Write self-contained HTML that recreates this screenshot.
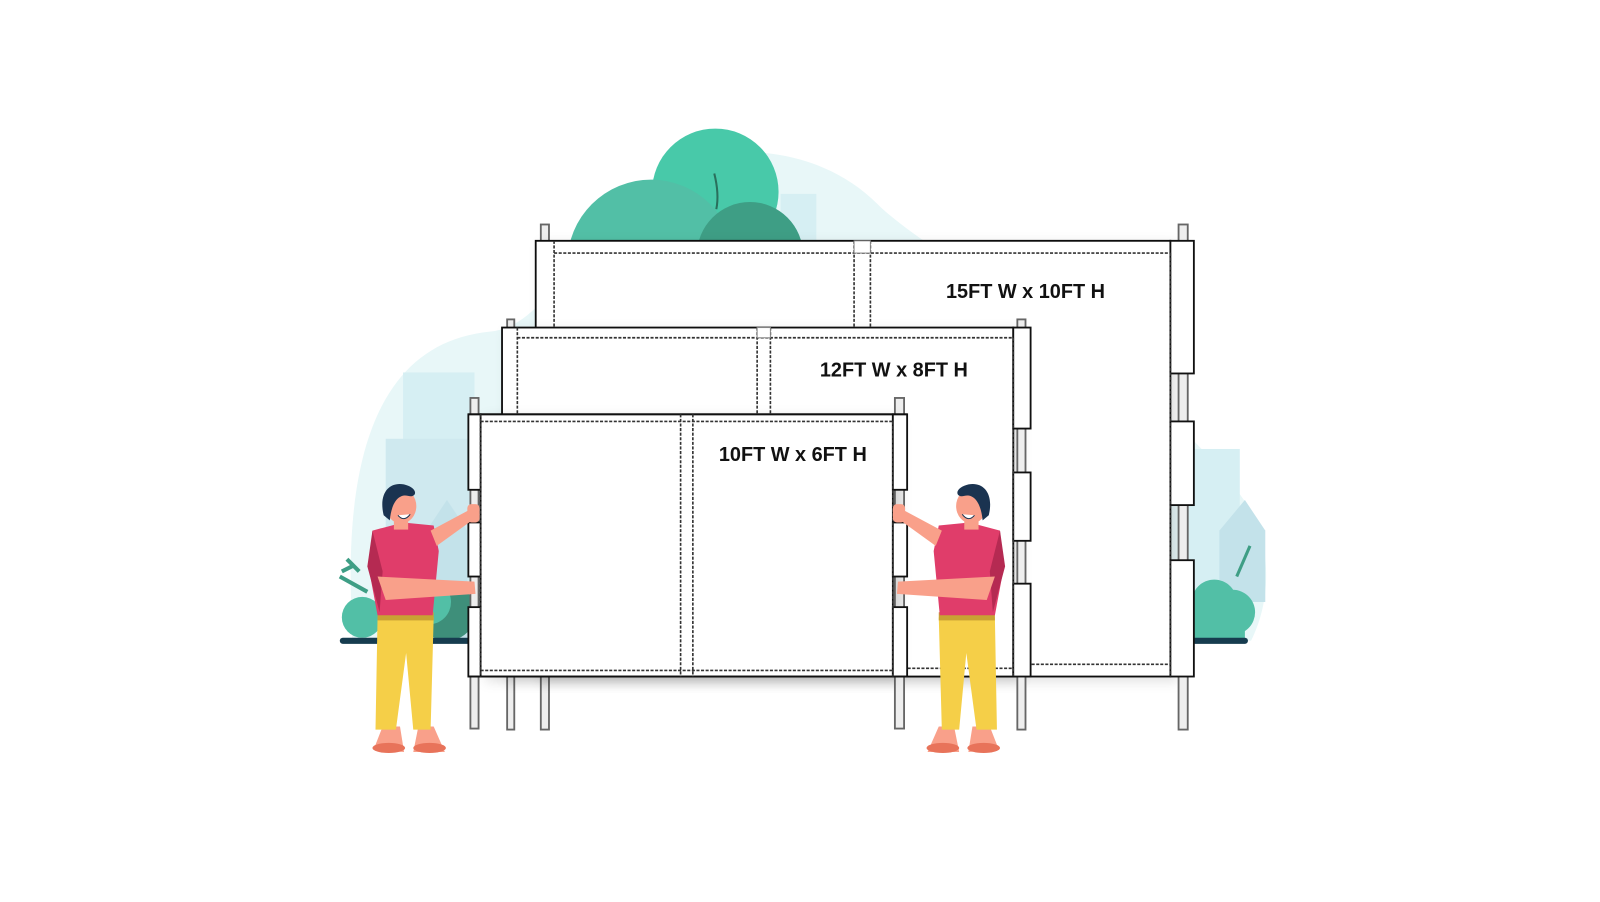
<!DOCTYPE html>
<html><head><meta charset="utf-8"><style>
html,body{margin:0;padding:0;background:#fff;}
svg{display:block}
text{font-family:"Liberation Sans",sans-serif;font-weight:bold;font-size:19.5px;fill:#111}
</style></head><body>
<svg width="1600" height="902" viewBox="0 0 1600 902" xmlns="http://www.w3.org/2000/svg">
<defs>
<filter id="sh" x="-10%" y="-10%" width="130%" height="130%"><feDropShadow dx="6" dy="4" stdDeviation="6" flood-color="#000" flood-opacity="0.12"/></filter>
</defs>
<g transform="scale(1.0204)">
<!-- background blob -->
<path d="M345,610 C335,430 380,335 480,325 C540,320 570,220 640,175 C700,135 800,140 860,200 C920,260 1150,370 1232,510 C1248,560 1240,600 1226,628 L345,628 Z" fill="#e8f7f8"/>
<rect x="395" y="365" width="70" height="260" fill="#d6eff3"/>
<rect x="378" y="430" width="110" height="195" fill="#cfe9ef"/>
<polygon points="418,520 438,490 458,520 458,625 418,625" fill="#c3e2ea"/>
<rect x="765" y="190" width="35" height="50" fill="#d6eff3"/>
<rect x="1165" y="440" width="50" height="185" fill="#d6eff3"/>
<polygon points="1195,520 1220,490 1240,520 1240,590 1195,590" fill="#c3e2ea"/>
<!-- trees -->
<circle cx="701" cy="188" r="62" fill="#48c9a9"/>
<circle cx="638" cy="258" r="82" fill="#52bfa6"/>
<circle cx="735" cy="250" r="52" fill="#3e9e85"/>
<path d="M700,170 Q705,190 702,205" stroke="#2a6f5c" stroke-width="2" fill="none"/>
<!-- bushes and ground -->
<circle cx="355" cy="605" r="20" fill="#52bfa6"/>
<circle cx="438" cy="600" r="28" fill="#3e8f7a"/>
<circle cx="420" cy="590" r="22" fill="#52bfa6"/>
<circle cx="1190" cy="590" r="22" fill="#52bfa6"/>
<circle cx="1208" cy="600" r="22" fill="#52bfa6"/>
<rect x="1170" y="590" width="50" height="38" fill="#52bfa6"/>
<path d="M333,565 L360,580 M340,548 L352,560 M345,555 L335,560" stroke="#3e9e85" stroke-width="4"/>
<path d="M1212,565 L1225,535" stroke="#3e9e85" stroke-width="3"/>
<rect x="333" y="625" width="130" height="6" rx="3" fill="#163c4f"/>
<rect x="1165" y="625" width="58" height="6" rx="3" fill="#163c4f"/>

<g stroke="#111" stroke-width="1.8">
<!-- FRAME 3 -->
<rect x="530" y="220" width="8" height="495" fill="#eee" stroke="#666"/>
<rect x="525" y="236" width="622" height="427" fill="#fff" filter="url(#sh)"/>
<rect x="1155" y="220" width="9" height="495" fill="#eee" stroke="#666"/>
<g fill="#fff">
<rect x="1147" y="236" width="23" height="130"/>
<rect x="1147" y="413" width="23" height="82"/>
<rect x="1147" y="549" width="23" height="114"/>
</g>
<g fill="none" stroke="#333" stroke-dasharray="3,1.5" stroke-width="1.6">
<path d="M543,236 V663 M543,248 H1147 M543,651 H1147 M1147,248 V663 M837,236 V663 M853,236 V663"/>
</g>
<rect x="837" y="236" width="16" height="12" fill="#fff" stroke="#888" stroke-width="1"/>
<text x="1005" y="292" text-anchor="middle" stroke="none">15FT W x 10FT H</text>

<!-- FRAME 2 -->
<rect x="497" y="313" width="7" height="402" fill="#eee" stroke="#666"/>
<rect x="492" y="321" width="501" height="342" fill="#fff" filter="url(#sh)"/>
<rect x="997" y="313" width="8" height="402" fill="#eee" stroke="#666"/>
<g fill="#fff">
<rect x="993" y="321" width="17" height="99"/>
<rect x="993" y="463" width="17" height="67"/>
<rect x="993" y="572" width="17" height="91"/>
</g>
<g fill="none" stroke="#333" stroke-dasharray="3,1.5" stroke-width="1.6">
<path d="M507,321 V663 M507,331 H993 M507,655 H993 M993,331 V663 M742,321 V663 M755,321 V663"/>
</g>
<rect x="742" y="321" width="13" height="10" fill="#fff" stroke="#888" stroke-width="1"/>
<text x="876" y="369" text-anchor="middle" stroke="none">12FT W x 8FT H</text>

<!-- FRAME 1 -->
<rect x="461" y="390" width="8" height="324" fill="#eee" stroke="#666"/>
<rect x="877" y="390" width="9" height="324" fill="#eee" stroke="#666"/>
<rect x="471" y="406" width="404" height="257" fill="#fff" filter="url(#sh)"/>
<g fill="#fff">
<rect x="459" y="406" width="12" height="74"/>
<rect x="459" y="512" width="12" height="53"/>
<rect x="459" y="595" width="12" height="68"/>
<rect x="875" y="406" width="14" height="74"/>
<rect x="875" y="512" width="14" height="53"/>
<rect x="875" y="595" width="14" height="68"/>
</g>
<path d="M459,406 H889 M459,663 H889" fill="none"/>
<g fill="none" stroke="#333" stroke-dasharray="3,1.5" stroke-width="1.6">
<path d="M471,406 V663 M471,413 H875 M471,657 H875 M875,413 V663 M667,406 V663 M679,406 V663"/>
</g>
<text x="777" y="452" text-anchor="middle" stroke="none">10FT W x 6FT H</text>
</g>

<!-- PERSON -->
<g id="p">
<path d="M375,712 L366,735 L396,737 L392,712 Z" fill="#f9a08a"/>
<path d="M410,712 L405,737 L436,737 L425,712 Z" fill="#f9a08a"/>
<ellipse cx="381" cy="733" rx="16" ry="5" fill="#e8735a"/>
<ellipse cx="421" cy="733" rx="16" ry="5" fill="#e8735a"/>
<path d="M370,605 L425,605 L422,715 L405,715 L398,640 L388,715 L368,715 Z" fill="#f5cf48"/>
<rect x="370" y="600" width="55" height="8" fill="#c9a233"/>
<path d="M365,520 L395,512 L425,515 L430,540 L424,603 L370,603 L362,560 Z" fill="#e03d6a"/>
<path d="M365,520 L360,555 L372,600 L375,560 Z" fill="#b52a52"/>
<path d="M422,520 L465,497 L468,506 L428,535 Z" fill="#f9a08a"/>
<rect x="458" y="494" width="12" height="18" rx="4" fill="#f9a08a"/>
<path d="M370,565 L465,570 L466,582 L378,588 Z" fill="#f9a08a"/>
<rect x="386" y="505" width="14" height="14" fill="#f9a08a"/>
<ellipse cx="393" cy="496" rx="15" ry="17" fill="#f9a08a"/>
<path d="M376,505 C370,480 385,470 400,476 C410,480 408,488 400,486 C392,484 384,490 382,510 Z" fill="#1a3350"/>
<path d="M390,505 Q396,512 402,504" fill="#fff" stroke="#1a3350" stroke-width="1"/>
</g>
<use href="#p" transform="translate(1345,0) scale(-1,1)"/>
</g>
</svg>
</body></html>
